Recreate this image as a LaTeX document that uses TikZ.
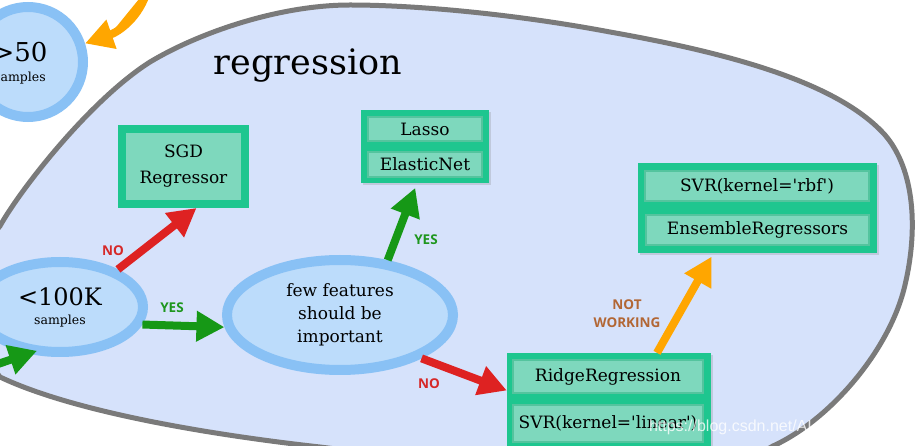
\documentclass[tikz,border=0pt]{standalone}
\usepackage{fontspec}
\setmainfont{DejaVu Serif}
\newfontfamily\labelfont{Open Sans}
\newfontfamily\wmfont{Liberation Sans}
\usetikzlibrary{shapes.geometric,arrows.meta,shadows,calc}
\definecolor{blobfill}{RGB}{214,226,251}
\definecolor{blobline}{RGB}{122,122,122}
\definecolor{ringblue}{RGB}{137,193,245}
\definecolor{innerblue}{RGB}{188,220,251}
\definecolor{boxgreen}{RGB}{30,198,143}
\definecolor{boxinner}{RGB}{126,216,189}
\definecolor{boxedge}{RGB}{84,196,158}
\definecolor{arrred}{RGB}{222,34,34}
\definecolor{arrgreen}{RGB}{22,152,22}
\definecolor{arrorange}{RGB}{255,166,0}
\definecolor{lblred}{RGB}{214,40,40}
\definecolor{lblgreen}{RGB}{30,150,30}
\definecolor{lblbrown}{RGB}{178,102,52}
\newcommand{\sq}{\textquotesingle}
\begin{document}
\begin{tikzpicture}[x=1pt,y=-1pt,
  blobshape/.style={draw=blobline, line width=5pt, fill=blobfill},
  decision/.style={ellipse, draw=ringblue, line width=10pt, fill=innerblue,
    inner sep=0pt, align=center, text=black,
    drop shadow={shadow xshift=1.5pt, shadow yshift=-2pt, opacity=0.18}},
  outerbox/.style={rectangle, fill=boxgreen, inner sep=0pt,
    drop shadow={shadow xshift=2pt, shadow yshift=-2pt, opacity=0.25}},
  innerbox/.style={rectangle, fill=boxinner, draw=boxedge, line width=1.5pt,
    inner sep=0pt, align=center, font=\fontsize{17}{22}\selectfont},
  arrbase/.style={line width=8pt, -{Triangle[length=28pt,width=29pt]}},
  redarr/.style={arrbase, draw=arrred, fill=arrred},
  greenarr/.style={arrbase, draw=arrgreen, fill=arrgreen},
  orangearr/.style={arrbase, draw=arrorange, fill=arrorange},
  lbl/.style={font=\labelfont\bfseries\fontsize{13.5}{18}\selectfont, align=center, inner sep=0pt},
]
\useasboundingbox (0,0) rectangle (922,446);
\clip (0,0) rectangle (922,446);
\fill[white] (0,0) rectangle (922,446);

% region blob
\draw[blobshape] (0,226)
  .. controls (20,190) and (90,100) .. (150,62)
  .. controls (200,32) and (280,5) .. (350,5)
  .. controls (420,5) and (520,15) .. (610,32)
  .. controls (740,55) and (840,85) .. (885,135)
  .. controls (915,170) and (918,230) .. (905,285)
  .. controls (890,350) and (830,420) .. (773,446)
  .. controls (720,480) and (500,470) .. (320,447)
  .. controls (230,437) and (80,415) .. (0,377)
  .. controls (-30,340) and (-30,260) .. (0,226) -- cycle;

\node[font=\fontsize{35}{40}\selectfont, inner sep=0pt] (title) at (308,66) {regression};

% >50 samples circle
\node[decision, circle, minimum size=110pt,
  label={[name=gt50t, align=center, xshift=-8pt, yshift=-1pt, inner sep=0pt,
    font=\fontsize{26}{26}\selectfont]center:{>50\\[-6pt]{\fontsize{12.5}{14}\selectfont samples}}}]
  (gt50) at (28,62) {};

% decisions
\node[decision, minimum width=166pt, minimum height=90pt, font=\fontsize{24}{24}\selectfont] (k100) at (60,307)
  {<100K\\[-5pt]{\fontsize{12.5}{14}\selectfont samples}};
\node[decision, minimum width=226pt, minimum height=110pt,
  font=\fontsize{17}{23}\selectfont] (ff) at (340,315)
  {few features\\should be\\important};

% SGD box
\node[rectangle, fill=boxinner, draw=boxgreen, line width=8pt, minimum width=123pt,
  minimum height=75pt, inner sep=0pt, align=center, font=\fontsize{17}{26}\selectfont,
  drop shadow={shadow xshift=2pt, shadow yshift=-2pt, opacity=0.25}] (sgd) at (183.5,166.5)
  {SGD\\Regressor};

% Lasso / ElasticNet
\node[outerbox, minimum width=128pt, minimum height=73pt] (lassobox) at (425,146.5) {};
\node[innerbox, minimum width=114pt, minimum height=24pt] (lasso) at (425,129) {Lasso};
\node[innerbox, minimum width=114pt, minimum height=25pt] (enet) at (425,164.5) {ElasticNet};

% SVR rbf / Ensemble
\node[outerbox, minimum width=239pt, minimum height=90pt] (rbfbox) at (757.5,208) {};
\node[innerbox, minimum width=224pt, minimum height=30pt] (svrrbf) at (757,186) {SVR(kernel=\sq rbf\sq)};
\node[innerbox, minimum width=223pt, minimum height=30pt] (ens) at (757.5,230) {EnsembleRegressors};

% Ridge / SVR linear
\node[outerbox, minimum width=204pt, minimum height=107pt] (ridgebox) at (609,406.5) {};
\node[innerbox, minimum width=190pt, minimum height=33pt] (ridge) at (608,376.5) {RidgeRegression};
\node[innerbox, minimum width=190pt, minimum height=37pt] (svrlin) at (608,423.5) {SVR(kernel=\sq linear\sq)};

% free ends
\coordinate (otop) at (148,-12);
\coordinate (gin) at (-8,366);

% arrows
\draw[orangearr] (otop) .. controls (140,18) and (118,32) .. (gt50.18);
\draw[greenarr, shorten >=-9pt] (gin) -- (k100.236);
\draw[redarr] (k100.33) -- ([xshift=13pt]sgd.south);
\draw[greenarr] (k100.-12) -- (ff.186);
\draw[greenarr, shorten >=5pt] (ff.49) -- ([xshift=-8pt]lassobox.south);
\draw[redarr] (ff.-28) -- ([yshift=16pt]ridgebox.west);
\draw[orangearr, shorten >=4pt] ([xshift=48pt]ridgebox.north) -- ([xshift=-44pt]rbfbox.south);

% labels
\node[lbl, text=lblred] (lno1) at (113,251) {NO};
\node[lbl, text=lblgreen] (lyes1) at (172,308) {YES};
\node[lbl, text=lblgreen] (lyes2) at (426,240) {YES};
\node[lbl, text=lblred] (lno2) at (429,384) {NO};
\node[lbl, text=lblbrown] (lnw) at (627,314) {NOT\\WORKING};

% watermark
\node[font=\wmfont\fontsize{16}{18}\selectfont, text=white, opacity=0.8, inner sep=0pt] (wm) at (782,427) {https://blog.csdn.net/AI\_LINNGLONG};
\end{tikzpicture}
\end{document}
